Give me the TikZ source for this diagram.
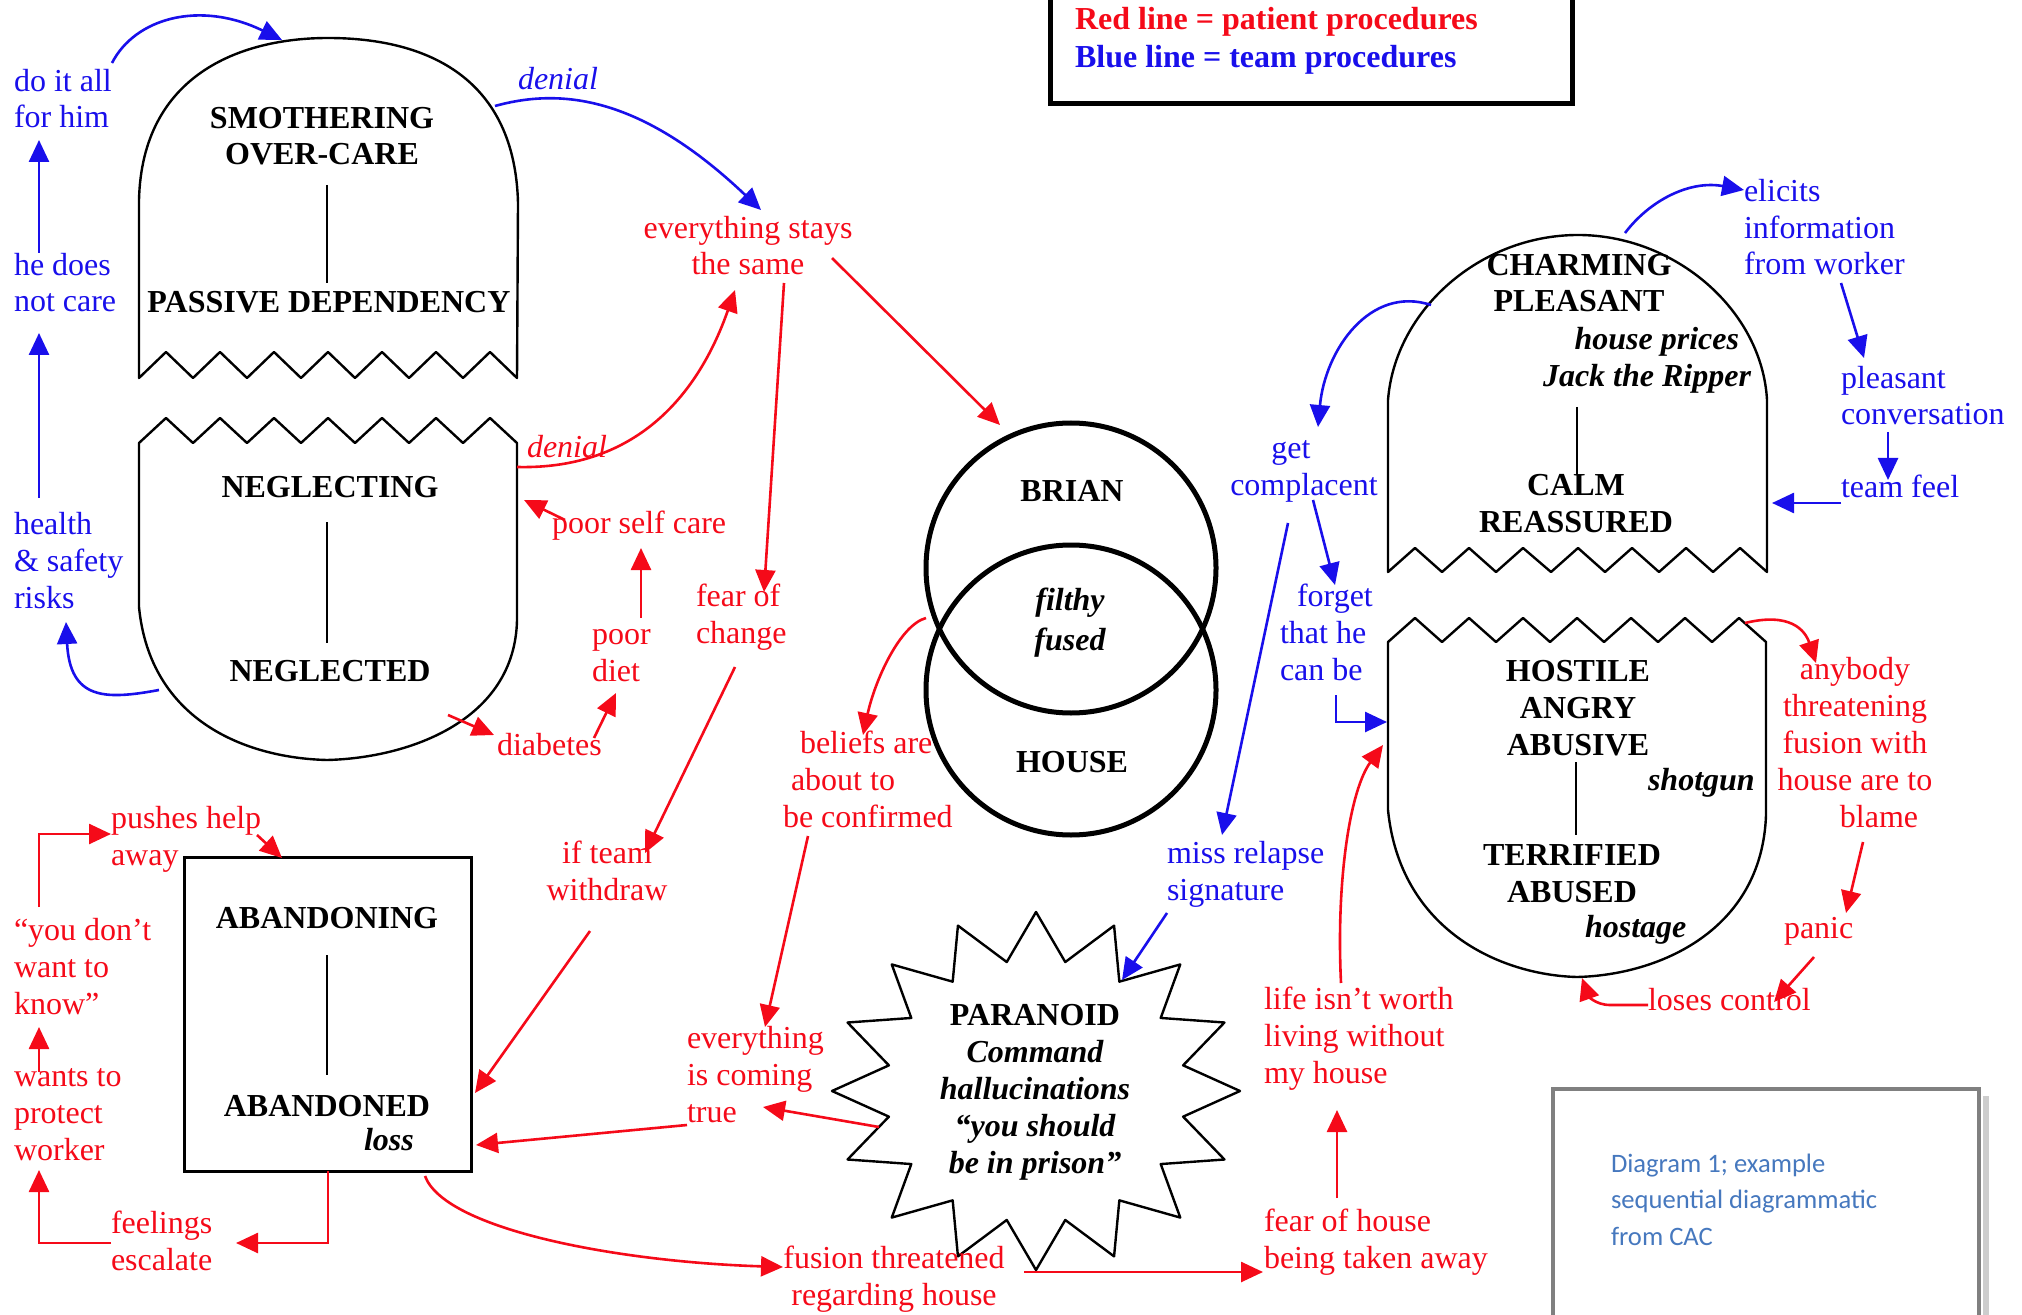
\documentclass[tikz,border=0pt]{standalone}
\usepackage{fontspec}
\setmainfont{Liberation Serif}
\newfontfamily\calib{Carlito}
\usetikzlibrary{arrows.meta}
\definecolor{myred}{RGB}{245,10,25}
\definecolor{myblue}{RGB}{25,15,235}
\definecolor{capblue}{RGB}{70,120,190}
\definecolor{boxgray}{RGB}{128,128,128}
\definecolor{shadowgray}{RGB}{205,205,205}
\newcommand{\dfs}{\fontsize{16pt}{18.4pt}\selectfont}
\begin{document}
\begin{tikzpicture}[x=0.5pt,y=-0.5pt,
  lbl/.style={inner sep=0pt, outer sep=0pt, font=\dfs},
  rtxt/.style={lbl, text=myred, align=left, anchor=base west},
  btxt/.style={lbl, text=myblue, align=left, anchor=base west},
  ktxt/.style={lbl, font=\dfs\bfseries, align=center, anchor=base},
  kit/.style={lbl, font=\dfs\bfseries\itshape},
  shp/.style={draw=black, line width=1.2pt, line join=round},
  vln/.style={draw=black, line width=0.8pt},
  barr/.style={draw=myblue, line width=1.3pt, -{Triangle[length=11pt,width=10pt]}},
  rarr/.style={draw=myred, line width=1.3pt, -{Triangle[length=11pt,width=10pt]}}]
\useasboundingbox (0,0) rectangle (2022,1315);
% NOTE: multi-line nodes are placed by the baseline of their LAST line

% ---------- legend ----------
\draw[line width=2.5pt] (1050,-20) rectangle (1572,104);
\node[lbl, font=\dfs\bfseries, text=myred, anchor=base west] (legr) at (1075,30) {Red line = patient procedures};
\node[lbl, font=\dfs\bfseries, text=myblue, anchor=base west] (legb) at (1075,68) {Blue line = team procedures};

% ---------- caption box ----------
\draw[shadowgray, line width=3pt] (1986,1096) -- (1986,1320);
\draw[boxgray, line width=2pt] (1553,1340) -- (1553,1089) -- (1979,1089) -- (1979,1340);
\node[lbl, font=\calib\fontsize{13.3pt}{18.2pt}\selectfont, text=capblue, align=left, anchor=base west] (cap) at (1611,1245) {Diagram 1; example\\sequential diagrammatic\\from CAC};

% ---------- SMOTHERING shape ----------
\draw[shp] (139,378) -- (139,200) .. controls (142,75) and (240,38) .. (328,38)
  .. controls (430,38) and (515,80) .. (518,203) -- (517,378)
  -- (490,352) -- (463,378) -- (436,352) -- (409,378) -- (382,352) -- (355,378)
  -- (328,352) -- (301,378) -- (274,352) -- (247,378) -- (220,352) -- (193,378)
  -- (166,352) -- cycle;
\node[ktxt] (smoth) at (322,165) {SMOTHERING\\OVER-CARE};
\node[ktxt] (passive) at (329,313) {PASSIVE DEPENDENCY};
\draw[vln] (327,185) -- (327,283);

% ---------- NEGLECTING shape ----------
\draw[shp] (139,443) -- (166,418) -- (193,443) -- (220,418) -- (247,443) -- (274,418)
  -- (301,443) -- (328,418) -- (355,443) -- (382,418) -- (409,443) -- (436,418)
  -- (463,443) -- (490,418) -- (517,443) -- (517,620)
  .. controls (515,720) and (410,758) .. (327,760)
  .. controls (245,758) and (150,720) .. (139,607) -- cycle;
\node[ktxt] (neglecting) at (330,497) {NEGLECTING};
\node[ktxt] (neglected) at (330,681) {NEGLECTED};
\draw[vln] (327,522) -- (327,643);

% ---------- ABANDONING box ----------
\draw[line width=1.5pt] (184,857) rectangle (471,1171);
\node[ktxt] (abandoning) at (327,928) {ABANDONING};
\node[ktxt] (abandoned) at (327,1116) {ABANDONED};
\node[kit, anchor=base west] (loss) at (364,1150) {loss};
\draw[vln] (327,955) -- (327,1075);

% ---------- Venn ----------
\draw[line width=2.5pt] (1071,568) circle[radius=145];
\draw[line width=2.5pt] (1071,690) circle[radius=145];
\node[ktxt] (brian) at (1072,502) {BRIAN};
\node[kit, anchor=base] (filthy) at (1070,610) {filthy};
\node[kit, anchor=base] (fused) at (1070,650) {fused};
\node[ktxt] (house) at (1072,772) {HOUSE};

% ---------- PARANOID star ----------
\coordinate (star) at (1036,1091);
\draw[shp] plot[variable=\k, samples at={0,...,31}]
  ({1036+(204-54*mod(\k,2))*cos(90-11.25*\k)}, {1091-(179-47.5*mod(\k,2))*sin(90-11.25*\k)}) -- cycle;
\node[ktxt] (paranoid) at (1035,1173) {PARANOID\\\itshape Command\\\itshape hallucinations\\\itshape “you should\\\itshape be in prison”};

% ---------- CHARMING shape ----------
\draw[shp] (1388,572) -- (1388,400) .. controls (1395,310) and (1480,235) .. (1578,235)
  .. controls (1675,235) and (1762,310) .. (1767,400) -- (1767,572)
  -- (1740,548) -- (1713,572) -- (1686,548) -- (1659,572) -- (1632,548) -- (1605,572)
  -- (1578,548) -- (1551,572) -- (1523,548) -- (1496,572) -- (1469,548) -- (1442,572)
  -- (1415,548) -- cycle;
\node[ktxt] (charming) at (1579,312) {CHARMING\\PLEASANT};
\node[kit, anchor=base east] (prices) at (1739,350) {house prices};
\node[kit, anchor=base east] (ripper) at (1751,387) {Jack the Ripper};
\draw[vln] (1577,407) -- (1577,475);
\node[ktxt] (calm) at (1576,532) {CALM\\REASSURED};

% ---------- HOSTILE shape ----------
\draw[shp] (1388,642) -- (1415,618) -- (1442,642) -- (1469,618) -- (1496,642) -- (1523,618)
  -- (1550,642) -- (1577,618) -- (1604,642) -- (1631,618) -- (1658,642) -- (1685,618)
  -- (1712,642) -- (1739,618) -- (1766,642) -- (1766,815)
  .. controls (1762,930) and (1660,975) .. (1577,977)
  .. controls (1500,975) and (1400,930) .. (1388,810) -- cycle;
\node[ktxt] (hostile) at (1578,755) {HOSTILE\\ANGRY\\ABUSIVE};
\node[kit, anchor=base west] (shotgun) at (1648,790) {shotgun};
\draw[vln] (1576,762) -- (1576,835);
\node[ktxt] (terrified) at (1572,902) {TERRIFIED\\ABUSED};
\node[kit, anchor=base west] (hostage) at (1585,937) {hostage};

% ---------- blue texts ----------
\node[btxt] (doit) at (14,128) {do it all\\for him};
\node[btxt] (hedoes) at (14,312) {he does\\not care};
\node[btxt] (health) at (14,608) {health\\\& safety\\risks};
\node[btxt, font=\dfs\itshape] (denialb) at (518,90) {denial};
\node[btxt, align=center, anchor=base] (complacent) at (1304,495) {get\hspace*{13pt}\\complacent};
\node[btxt] (forget) at (1280,680) {\hspace*{8.5pt}forget\\that he\\can be};
\node[btxt] (miss) at (1167,900) {miss relapse\\signature};
\node[btxt] (elicits) at (1744,275) {elicits\\information\\from worker};
\node[btxt] (pleasant) at (1841,425) {pleasant\\conversation};
\node[btxt] (teamfeel) at (1841,497) {team feel};

% ---------- red texts ----------
\node[rtxt, align=center, anchor=base] (stays) at (748,275) {everything stays\\the same};
\node[rtxt, font=\dfs\itshape] (denialr) at (527,458) {denial};
\node[rtxt] (selfcare) at (552,533) {poor self care};
\node[rtxt] (diet) at (592,681) {poor\\diet};
\node[rtxt] (diabetes) at (497,755) {diabetes};
\node[rtxt] (fearch) at (696,643) {fear of\\change};
\node[rtxt, align=center, anchor=base] (ifteam) at (607,900) {if team\\withdraw};
\node[rtxt] (beliefs) at (783,827) {\hspace*{8.5pt}beliefs are\\\hspace*{4pt}about to\\be confirmed};
\node[rtxt] (coming) at (687,1122) {everything\\is coming\\true};
\node[rtxt, align=center, anchor=base] (fusion) at (894,1305) {fusion threatened\\regarding house};
\node[rtxt] (lifeisnt) at (1264,1083) {life isn’t worth\\living without\\my house};
\node[rtxt] (fearhouse) at (1264,1268) {fear of house\\being taken away};
\node[rtxt, align=center, anchor=base] (anybody) at (1855,827) {anybody\\threatening\\fusion with\\house are to\\\hspace*{24pt}blame};
\node[rtxt] (panic) at (1784,938) {panic};
\node[rtxt] (loses) at (1648,1010) {loses control};
\node[rtxt] (pushes) at (111,865) {pushes help\\away};
\node[rtxt] (youdont) at (14,1014) {“you don’t\\want to\\know”};
\node[rtxt] (wants) at (14,1160) {wants to\\protect\\worker};
\node[rtxt] (feelings) at (111,1270) {feelings\\escalate};

% ---------- connector end points ----------
\coordinate (p1a) at (112,63);   \coordinate (p1b) at (282,40);
\coordinate (p2a) at (39,253);   \coordinate (p2b) at (39,140);
\coordinate (p3a) at (39,498);   \coordinate (p3b) at (39,333);
\coordinate (p4a) at (159,690);  \coordinate (p4b) at (66,622);
\coordinate (p5a) at (495,106);  \coordinate (p5b) at (761,210);
\coordinate (p6a) at (1431,305); \coordinate (p6b) at (1318,427);
\coordinate (p7a) at (1313,500); \coordinate (p7b) at (1335,585);
\coordinate (p8a) at (1288,523); \coordinate (p8b) at (1222,835);
\coordinate (p9a) at (1336,695); \coordinate (p9b) at (1387,722);
\coordinate (p10a) at (1625,233); \coordinate (p10b) at (1744,190);
\coordinate (p11a) at (1841,283); \coordinate (p11b) at (1864,358);
\coordinate (p12a) at (1888,432); \coordinate (p12b) at (1888,480);
\coordinate (p13a) at (1841,503); \coordinate (p13b) at (1772,503);
\coordinate (p14a) at (1167,913); \coordinate (p14b) at (1122,980);

\coordinate (q1a) at (517,467);  \coordinate (q1b) at (735,290);
\coordinate (q2a) at (832,258);  \coordinate (q2b) at (1000,425);
\coordinate (q3a) at (784,283);  \coordinate (q3b) at (764,592);
\coordinate (q4a) at (735,667);  \coordinate (q4b) at (645,853);
\coordinate (q5a) at (565,520);  \coordinate (q5b) at (524,500);
\coordinate (q6a) at (641,618);  \coordinate (q6b) at (641,548);
\coordinate (q7a) at (594,738);  \coordinate (q7b) at (616,693);
\coordinate (q8a) at (448,715);  \coordinate (q8b) at (494,735);
\coordinate (q9a) at (926,618);  \coordinate (q9b) at (863,735);
\coordinate (q10a) at (808,836); \coordinate (q10b) at (765,1027);
\coordinate (q11a) at (590,931); \coordinate (q11b) at (475,1093);
\coordinate (q12a) at (687,1125); \coordinate (q12b) at (476,1145);
\coordinate (q13a) at (879,1127); \coordinate (q13b) at (763,1107);
\coordinate (q14a) at (425,1176); \coordinate (q14b) at (783,1267);
\coordinate (q15a) at (1024,1272); \coordinate (q15b) at (1263,1272);
\coordinate (q16a) at (1337,1198); \coordinate (q16b) at (1337,1110);
\coordinate (q17a) at (1341,983); \coordinate (q17b) at (1383,745);
\coordinate (q18a) at (1745,623); \coordinate (q18b) at (1816,663);
\coordinate (q19a) at (1863,842); \coordinate (q19b) at (1846,913);
\coordinate (q20a) at (1814,957); \coordinate (q20b) at (1774,1002);
\coordinate (q21a) at (1648,1005); \coordinate (q21b) at (1582,978);
\coordinate (q22a) at (39,907);  \coordinate (q22b) at (111,834);
\coordinate (q23a) at (257,835); \coordinate (q23b) at (282,858);
\coordinate (q24a) at (39,1072); \coordinate (q24b) at (39,1027);
\coordinate (q25a) at (111,1243); \coordinate (q25b) at (39,1170);
\coordinate (q26a) at (328,1171); \coordinate (q26b) at (236,1243);

% ---------- blue connectors ----------
\draw[barr] (p1a) .. controls (135,18) and (200,0) .. (p1b);
\draw[barr] (p2a) -- (p2b);
\draw[barr] (p3a) -- (p3b);
\draw[barr] (p4a) .. controls (105,700) and (70,700) .. (p4b);
\draw[barr] (p5a) .. controls (560,88) and (640,95) .. (p5b);
\draw[barr] (p6a) .. controls (1370,285) and (1325,350) .. (p6b);
\draw[barr] (p7a) -- (p7b);
\draw[barr] (p8a) -- (p8b);
\draw[barr] (p9a) |- (p9b);
\draw[barr] (p10a) .. controls (1650,200) and (1690,180) .. (p10b);
\draw[barr] (p11a) -- (p11b);
\draw[barr] (p12a) -- (p12b);
\draw[barr] (p13a) -- (p13b);
\draw[barr] (p14a) -- (p14b);

% ---------- red connectors ----------
\draw[rarr] (q1a) .. controls (640,470) and (700,390) .. (q1b);
\draw[rarr] (q2a) -- (q2b);
\draw[rarr] (q3a) -- (q3b);
\draw[rarr] (q4a) -- (q4b);
\draw[rarr] (q5a) -- (q5b);
\draw[rarr] (q6a) -- (q6b);
\draw[rarr] (q7a) -- (q7b);
\draw[rarr] (q8a) -- (q8b);
\draw[rarr] (q9a) .. controls (900,625) and (875,680) .. (q9b);
\draw[rarr] (q10a) -- (q10b);
\draw[rarr] (q11a) -- (q11b);
\draw[rarr] (q12a) -- (q12b);
\draw[rarr] (q13a) -- (q13b);
\draw[rarr] (q14a) .. controls (445,1230) and (620,1262) .. (q14b);
\draw[rarr] (q15a) -- (q15b);
\draw[rarr] (q16a) -- (q16b);
\draw[rarr] (q17a) .. controls (1336,880) and (1350,790) .. (q17b);
\draw[rarr] (q18a) .. controls (1790,612) and (1805,630) .. (q18b);
\draw[rarr] (q19a) -- (q19b);
\draw[rarr] (q20a) -- (q20b);
\draw[rarr] (q21a) -- (1610,1005) .. controls (1595,1005) and (1588,995) .. (q21b);
\draw[rarr] (q22a) |- (q22b);
\draw[rarr] (q23a) -- (q23b);
\draw[rarr] (q24a) -- (q24b);
\draw[rarr] (q25a) -| (q25b);
\draw[rarr] (q26a) |- (q26b);
\end{tikzpicture}
\end{document}
